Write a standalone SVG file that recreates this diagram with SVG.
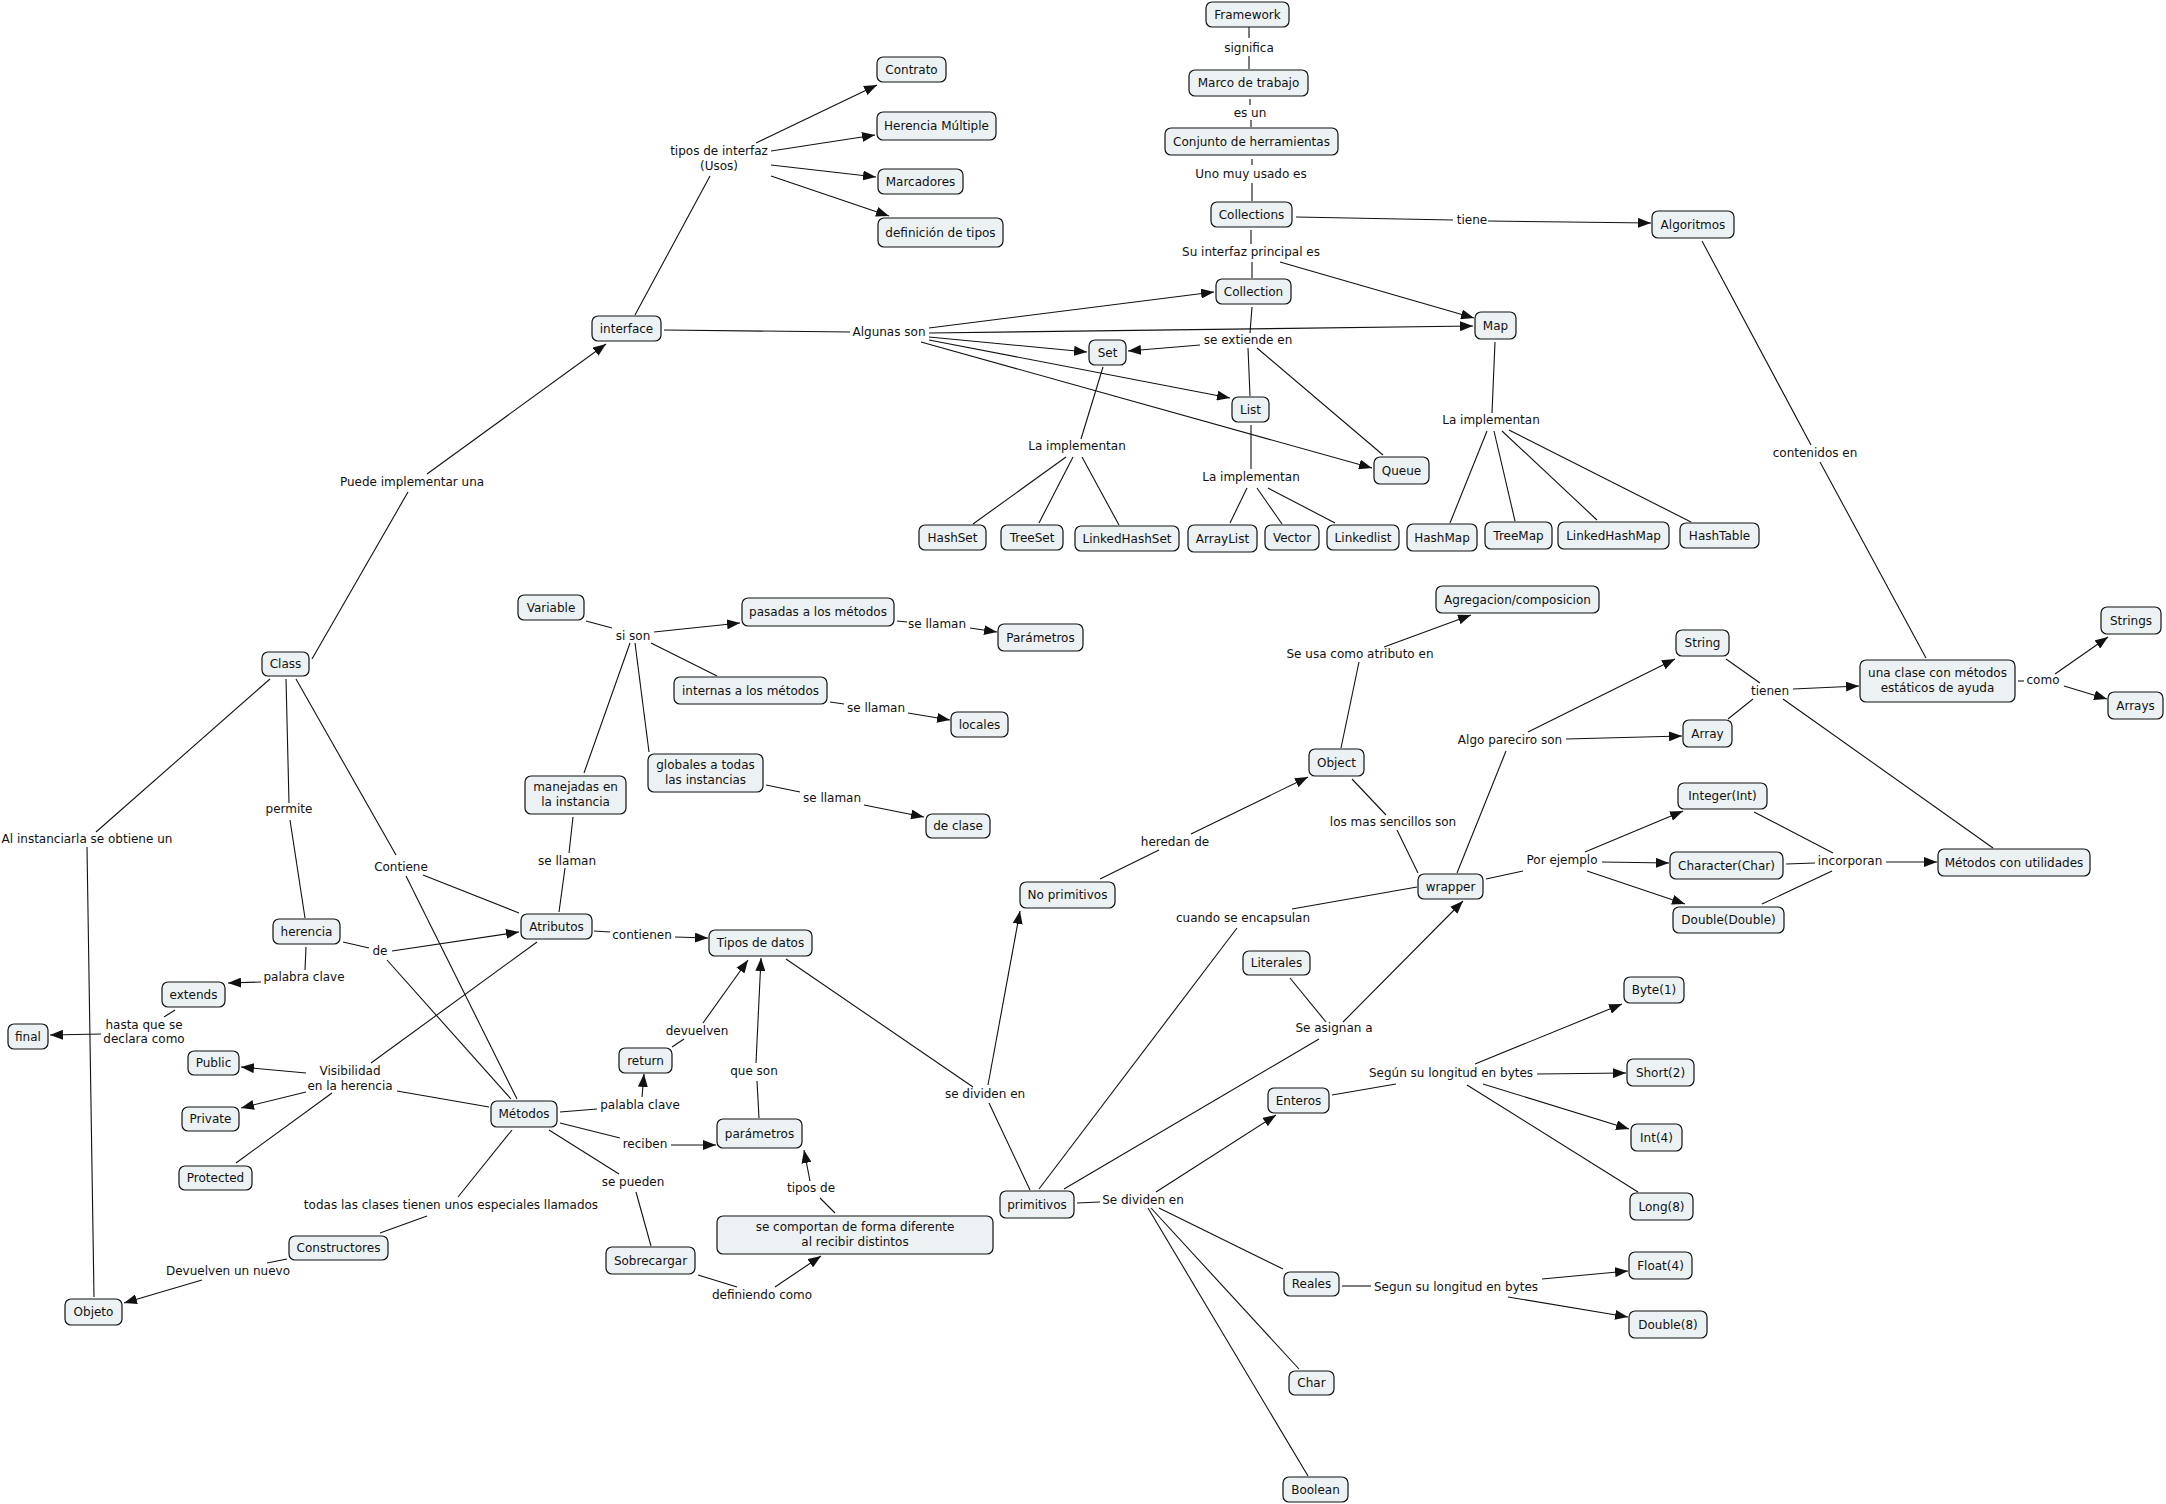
<svg xmlns="http://www.w3.org/2000/svg" width="2166" height="1504" viewBox="0 0 2166 1504">
<defs>
<marker id="ah" markerUnits="userSpaceOnUse" markerWidth="13" markerHeight="10" refX="13" refY="5" orient="auto">
<path d="M0,0 L13,5 L0,10 z" fill="#111"/>
</marker>
<style>
.n rect{fill:#ECF2F4;stroke:#111;stroke-width:1.2}
text{font-family:"DejaVu Sans",Verdana,sans-serif;font-size:12px;fill:#111;text-anchor:middle}
#connectors line{stroke:#111;stroke-width:1.1;fill:none}
#connectors line.a{marker-end:url(#ah)}
</style>
</defs>
<rect width="2166" height="1504" fill="#fff"/>
<g id="connectors">
<line x1="1249" y1="27" x2="1249" y2="38"/>
<line x1="1249" y1="56" x2="1249" y2="69"/>
<line x1="1250" y1="99" x2="1250" y2="105"/>
<line x1="1251" y1="120" x2="1251" y2="127"/>
<line x1="1252" y1="159" x2="1252" y2="165"/>
<line x1="1252" y1="183" x2="1252" y2="201"/>
<line x1="1296" y1="217" x2="1453" y2="220"/>
<line class="a" x1="1488" y1="221" x2="1651" y2="223"/>
<line x1="1251" y1="230" x2="1251" y2="244"/>
<line x1="1252" y1="262" x2="1252" y2="278"/>
<line class="a" x1="1280" y1="262" x2="1474" y2="318"/>
<line x1="1252" y1="307" x2="1250" y2="333"/>
<line class="a" x1="1200" y1="345" x2="1128" y2="351"/>
<line x1="1248" y1="348" x2="1250" y2="396"/>
<line x1="1257" y1="348" x2="1383" y2="455"/>
<line x1="1103" y1="367" x2="1081" y2="439"/>
<line x1="1066" y1="457" x2="973" y2="524"/>
<line x1="1073" y1="457" x2="1039" y2="523"/>
<line x1="1082" y1="457" x2="1119" y2="525"/>
<line x1="1251" y1="425" x2="1251" y2="469"/>
<line x1="1247" y1="488" x2="1230" y2="523"/>
<line x1="1257" y1="488" x2="1282" y2="524"/>
<line x1="1268" y1="488" x2="1335" y2="523"/>
<line x1="1495" y1="342" x2="1492" y2="413"/>
<line x1="1487" y1="431" x2="1450" y2="523"/>
<line x1="1494" y1="431" x2="1515" y2="521"/>
<line x1="1502" y1="431" x2="1597" y2="520"/>
<line x1="1509" y1="430" x2="1691" y2="522"/>
<line x1="1702" y1="241" x2="1811" y2="445"/>
<line x1="1820" y1="462" x2="1926" y2="658"/>
<line x1="635" y1="315" x2="710" y2="176"/>
<line class="a" x1="756" y1="143" x2="877" y2="85"/>
<line class="a" x1="771" y1="151" x2="875" y2="135"/>
<line class="a" x1="771" y1="165" x2="876" y2="177"/>
<line class="a" x1="771" y1="176" x2="889" y2="216"/>
<line x1="664" y1="330" x2="850" y2="332"/>
<line class="a" x1="929" y1="328" x2="1214" y2="292"/>
<line class="a" x1="929" y1="333" x2="1473" y2="326"/>
<line class="a" x1="929" y1="337" x2="1087" y2="352"/>
<line class="a" x1="929" y1="340" x2="1230" y2="398"/>
<line class="a" x1="921" y1="342" x2="1372" y2="468"/>
<line x1="312" y1="659" x2="408" y2="492"/>
<line class="a" x1="427" y1="474" x2="606" y2="344"/>
<line x1="270" y1="679" x2="96" y2="832"/>
<line x1="87" y1="847" x2="94" y2="1297"/>
<line x1="286" y1="679" x2="289" y2="803"/>
<line x1="290" y1="820" x2="305" y2="918"/>
<line x1="296" y1="679" x2="396" y2="855"/>
<line x1="423" y1="875" x2="519" y2="913"/>
<line x1="406" y1="876" x2="517" y2="1099"/>
<line x1="343" y1="942" x2="369" y2="948"/>
<line class="a" x1="392" y1="951" x2="519" y2="932"/>
<line x1="387" y1="960" x2="511" y2="1099"/>
<line x1="537" y1="942" x2="371" y2="1063"/>
<line x1="306" y1="947" x2="305" y2="970"/>
<line class="a" x1="261" y1="982" x2="228" y2="983"/>
<line x1="175" y1="1010" x2="164" y2="1017"/>
<line class="a" x1="101" y1="1034" x2="50" y2="1035"/>
<line class="a" x1="306" y1="1073" x2="241" y2="1067"/>
<line class="a" x1="306" y1="1092" x2="241" y2="1108"/>
<line x1="332" y1="1093" x2="236" y2="1163"/>
<line x1="397" y1="1091" x2="489" y2="1107"/>
<line x1="512" y1="1130" x2="458" y2="1197"/>
<line x1="427" y1="1216" x2="380" y2="1233"/>
<line x1="287" y1="1259" x2="267" y2="1263"/>
<line class="a" x1="202" y1="1280" x2="124" y2="1303"/>
<line x1="586" y1="621" x2="612" y2="628"/>
<line class="a" x1="654" y1="632" x2="740" y2="623"/>
<line x1="897" y1="621" x2="907" y2="622"/>
<line class="a" x1="970" y1="628" x2="997" y2="632"/>
<line x1="651" y1="643" x2="717" y2="676"/>
<line x1="830" y1="702" x2="844" y2="704"/>
<line class="a" x1="908" y1="713" x2="950" y2="720"/>
<line x1="635" y1="643" x2="649" y2="752"/>
<line x1="766" y1="785" x2="800" y2="792"/>
<line class="a" x1="864" y1="805" x2="924" y2="817"/>
<line x1="630" y1="643" x2="584" y2="773"/>
<line x1="573" y1="817" x2="569" y2="853"/>
<line x1="565" y1="868" x2="559" y2="912"/>
<line x1="594" y1="931" x2="610" y2="932"/>
<line class="a" x1="675" y1="937" x2="708" y2="938"/>
<line x1="786" y1="959" x2="973" y2="1087"/>
<line class="a" x1="988" y1="1085" x2="1020" y2="911"/>
<line x1="989" y1="1103" x2="1030" y2="1190"/>
<line x1="672" y1="1047" x2="684" y2="1039"/>
<line class="a" x1="703" y1="1023" x2="748" y2="960"/>
<line x1="560" y1="1112" x2="597" y2="1109"/>
<line class="a" x1="642" y1="1097" x2="644" y2="1074"/>
<line x1="759" y1="1118" x2="757" y2="1081"/>
<line class="a" x1="756" y1="1063" x2="761" y2="958"/>
<line x1="560" y1="1123" x2="620" y2="1138"/>
<line class="a" x1="671" y1="1145" x2="716" y2="1145"/>
<line x1="549" y1="1130" x2="619" y2="1174"/>
<line x1="636" y1="1192" x2="651" y2="1246"/>
<line x1="698" y1="1275" x2="737" y2="1287"/>
<line class="a" x1="775" y1="1287" x2="821" y2="1256"/>
<line x1="835" y1="1213" x2="820" y2="1198"/>
<line class="a" x1="810" y1="1181" x2="804" y2="1150"/>
<line x1="1039" y1="1189" x2="1237" y2="928"/>
<line x1="1292" y1="909" x2="1417" y2="887"/>
<line x1="1064" y1="1189" x2="1319" y2="1039"/>
<line class="a" x1="1343" y1="1022" x2="1463" y2="901"/>
<line x1="1290" y1="978" x2="1326" y2="1022"/>
<line x1="1077" y1="1203" x2="1100" y2="1202"/>
<line class="a" x1="1156" y1="1192" x2="1276" y2="1115"/>
<line x1="1159" y1="1208" x2="1283" y2="1269"/>
<line x1="1151" y1="1208" x2="1299" y2="1369"/>
<line x1="1148" y1="1208" x2="1308" y2="1476"/>
<line x1="1332" y1="1095" x2="1396" y2="1084"/>
<line class="a" x1="1475" y1="1064" x2="1622" y2="1004"/>
<line class="a" x1="1537" y1="1074" x2="1626" y2="1073"/>
<line class="a" x1="1483" y1="1084" x2="1629" y2="1129"/>
<line x1="1467" y1="1085" x2="1638" y2="1192"/>
<line x1="1342" y1="1286" x2="1371" y2="1286"/>
<line class="a" x1="1542" y1="1279" x2="1628" y2="1271"/>
<line class="a" x1="1508" y1="1297" x2="1628" y2="1317"/>
<line x1="1100" y1="879" x2="1159" y2="850"/>
<line class="a" x1="1191" y1="834" x2="1308" y2="777"/>
<line x1="1341" y1="748" x2="1359" y2="662"/>
<line class="a" x1="1384" y1="647" x2="1471" y2="615"/>
<line x1="1352" y1="779" x2="1386" y2="815"/>
<line x1="1397" y1="830" x2="1418" y2="873"/>
<line x1="1457" y1="873" x2="1506" y2="751"/>
<line class="a" x1="1528" y1="732" x2="1675" y2="659"/>
<line class="a" x1="1566" y1="739" x2="1682" y2="736"/>
<line x1="1486" y1="879" x2="1523" y2="871"/>
<line class="a" x1="1585" y1="852" x2="1683" y2="811"/>
<line class="a" x1="1602" y1="862" x2="1669" y2="863"/>
<line class="a" x1="1587" y1="871" x2="1685" y2="904"/>
<line x1="1726" y1="659" x2="1760" y2="683"/>
<line x1="1728" y1="719" x2="1753" y2="699"/>
<line class="a" x1="1793" y1="689" x2="1859" y2="686"/>
<line x1="1783" y1="699" x2="1993" y2="848"/>
<line x1="2018" y1="681" x2="2024" y2="681"/>
<line class="a" x1="2055" y1="674" x2="2108" y2="637"/>
<line class="a" x1="2064" y1="686" x2="2107" y2="699"/>
<line x1="1754" y1="812" x2="1833" y2="853"/>
<line x1="1786" y1="864" x2="1815" y2="863"/>
<line x1="1762" y1="904" x2="1832" y2="871"/>
<line class="a" x1="1886" y1="862" x2="1937" y2="862"/>
</g>
<g id="labels">
<text x="719" y="155">tipos de interfaz</text><text x="719" y="170">(Usos)</text>
<text x="889" y="336">Algunas son</text>
<text x="1249" y="52">significa</text>
<text x="1250" y="117">es un</text>
<text x="1251" y="178">Uno muy usado es</text>
<text x="1472" y="224">tiene</text>
<text x="1251" y="256">Su interfaz principal es</text>
<text x="1248" y="344">se extiende en</text>
<text x="1077" y="450">La implementan</text>
<text x="1251" y="481">La implementan</text>
<text x="1491" y="424">La implementan</text>
<text x="1815" y="457">contenidos en</text>
<text x="412" y="486">Puede implementar una</text>
<text x="87" y="843">Al instanciarla se obtiene un</text>
<text x="289" y="813">permite</text>
<text x="401" y="871">Contiene</text>
<text x="380" y="955">de</text>
<text x="304" y="981">palabra clave</text>
<text x="144" y="1029">hasta que se</text><text x="144" y="1043">declara como</text>
<text x="350" y="1075">Visibilidad</text><text x="350" y="1090">en la herencia</text>
<text x="451" y="1209">todas las clases tienen unos especiales llamados</text>
<text x="228" y="1275">Devuelven un nuevo</text>
<text x="633" y="640">si son</text>
<text x="937" y="628">se llaman</text>
<text x="876" y="712">se llaman</text>
<text x="832" y="802">se llaman</text>
<text x="567" y="865">se llaman</text>
<text x="642" y="939">contienen</text>
<text x="697" y="1035">devuelven</text>
<text x="640" y="1109">palabla clave</text>
<text x="754" y="1075">que son</text>
<text x="645" y="1148">reciben</text>
<text x="633" y="1186">se pueden</text>
<text x="762" y="1299">definiendo como</text>
<text x="811" y="1192">tipos de</text>
<text x="985" y="1098">se dividen en</text>
<text x="1175" y="846">heredan de</text>
<text x="1360" y="658">Se usa como atributo en</text>
<text x="1393" y="826">los mas sencillos son</text>
<text x="1510" y="744">Algo pareciro son</text>
<text x="1562" y="864">Por ejemplo</text>
<text x="1243" y="922">cuando se encapsulan</text>
<text x="1334" y="1032">Se asignan a</text>
<text x="1143" y="1204">Se dividen en</text>
<text x="1451" y="1077">Según su longitud en bytes</text>
<text x="1456" y="1291">Segun su longitud en bytes</text>
<text x="1770" y="695">tienen</text>
<text x="2043" y="684">como</text>
<text x="1850" y="865">incorporan</text>
</g>
<g id="n-framework" class="n"><rect x="1206" y="2" width="83" height="25" rx="6"/><text x="1247.5" y="18.5">Framework</text></g>
<g id="n-marco" class="n"><rect x="1189" y="70" width="119" height="26" rx="6"/><text x="1248.5" y="87">Marco de trabajo</text></g>
<g id="n-conjunto" class="n"><rect x="1165" y="128" width="173" height="27" rx="6"/><text x="1251.5" y="145.5">Conjunto de herramientas</text></g>
<g id="n-collections" class="n"><rect x="1211" y="202" width="81" height="25" rx="6"/><text x="1251.5" y="218.5">Collections</text></g>
<g id="n-collection" class="n"><rect x="1216" y="279" width="75" height="25" rx="6"/><text x="1253.5" y="295.5">Collection</text></g>
<g id="n-map" class="n"><rect x="1475" y="312" width="41" height="27" rx="6"/><text x="1495.5" y="329.5">Map</text></g>
<g id="n-set" class="n"><rect x="1089" y="340" width="37" height="25" rx="6"/><text x="1107.5" y="356.5">Set</text></g>
<g id="n-list" class="n"><rect x="1232" y="397" width="37" height="25" rx="6"/><text x="1250.5" y="413.5">List</text></g>
<g id="n-queue" class="n"><rect x="1374" y="457" width="55" height="27" rx="6"/><text x="1401.5" y="474.5">Queue</text></g>
<g id="n-algoritmos" class="n"><rect x="1652" y="211" width="82" height="27" rx="6"/><text x="1693" y="228.5">Algoritmos</text></g>
<g id="n-contrato" class="n"><rect x="877" y="57" width="69" height="25" rx="6"/><text x="911.5" y="73.5">Contrato</text></g>
<g id="n-herenciamult" class="n"><rect x="877" y="112" width="119" height="28" rx="6"/><text x="936.5" y="130">Herencia Múltiple</text></g>
<g id="n-marcadores" class="n"><rect x="878" y="169" width="85" height="25" rx="6"/><text x="920.5" y="185.5">Marcadores</text></g>
<g id="n-definicion" class="n"><rect x="878" y="218" width="125" height="29" rx="6"/><text x="940.5" y="236.5">definición de tipos</text></g>
<g id="n-interface" class="n"><rect x="592" y="316" width="69" height="25" rx="6"/><text x="626.5" y="332.5">interface</text></g>
<g id="n-hashset" class="n"><rect x="919" y="525" width="67" height="25" rx="6"/><text x="952.5" y="541.5">HashSet</text></g>
<g id="n-treeset" class="n"><rect x="1001" y="525" width="62" height="25" rx="6"/><text x="1032" y="541.5">TreeSet</text></g>
<g id="n-linkedhashset" class="n"><rect x="1075" y="526" width="104" height="25" rx="6"/><text x="1127" y="542.5">LinkedHashSet</text></g>
<g id="n-arraylist" class="n"><rect x="1188" y="525" width="69" height="27" rx="6"/><text x="1222.5" y="542.5">ArrayList</text></g>
<g id="n-vector" class="n"><rect x="1265" y="525" width="54" height="25" rx="6"/><text x="1292" y="541.5">Vector</text></g>
<g id="n-linkedlist" class="n"><rect x="1327" y="525" width="72" height="25" rx="6"/><text x="1363" y="541.5">Linkedlist</text></g>
<g id="n-hashmap" class="n"><rect x="1407" y="524" width="70" height="27" rx="6"/><text x="1442" y="541.5">HashMap</text></g>
<g id="n-treemap" class="n"><rect x="1485" y="522" width="67" height="27" rx="6"/><text x="1518.5" y="539.5">TreeMap</text></g>
<g id="n-linkedhashmap" class="n"><rect x="1558" y="522" width="111" height="27" rx="6"/><text x="1613.5" y="539.5">LinkedHashMap</text></g>
<g id="n-hashtable" class="n"><rect x="1680" y="523" width="79" height="25" rx="6"/><text x="1719.5" y="539.5">HashTable</text></g>
<g id="n-variable" class="n"><rect x="518" y="595" width="66" height="25" rx="6"/><text x="551" y="611.5">Variable</text></g>
<g id="n-pasadas" class="n"><rect x="742" y="598" width="152" height="28" rx="6"/><text x="818" y="616">pasadas a los métodos</text></g>
<g id="n-parametros1" class="n"><rect x="998" y="624" width="85" height="27" rx="6"/><text x="1040.5" y="641.5">Parámetros</text></g>
<g id="n-internas" class="n"><rect x="674" y="677" width="153" height="27" rx="6"/><text x="750.5" y="694.5">internas a los métodos</text></g>
<g id="n-locales" class="n"><rect x="951" y="712" width="57" height="25" rx="6"/><text x="979.5" y="728.5">locales</text></g>
<g id="n-globales" class="n"><rect x="648" y="754" width="115" height="38" rx="6"/><text x="705.5" y="769">globales a todas</text><text x="705.5" y="784">las instancias</text></g>
<g id="n-declase" class="n"><rect x="926" y="814" width="64" height="24" rx="6"/><text x="958" y="830">de clase</text></g>
<g id="n-manejadas" class="n"><rect x="525" y="776" width="101" height="38" rx="6"/><text x="575.5" y="791">manejadas en</text><text x="575.5" y="806">la instancia</text></g>
<g id="n-class" class="n"><rect x="262" y="652" width="47" height="24" rx="6"/><text x="285.5" y="668">Class</text></g>
<g id="n-atributos" class="n"><rect x="521" y="914" width="71" height="25" rx="6"/><text x="556.5" y="930.5">Atributos</text></g>
<g id="n-tipos" class="n"><rect x="709" y="930" width="103" height="26" rx="6"/><text x="760.5" y="947">Tipos de datos</text></g>
<g id="n-herencia" class="n"><rect x="273" y="919" width="67" height="25" rx="6"/><text x="306.5" y="935.5">herencia</text></g>
<g id="n-extends" class="n"><rect x="162" y="982" width="63" height="25" rx="6"/><text x="193.5" y="998.5">extends</text></g>
<g id="n-final" class="n"><rect x="8" y="1024" width="40" height="25" rx="6"/><text x="28" y="1040.5">final</text></g>
<g id="n-public" class="n"><rect x="188" y="1051" width="51" height="24" rx="6"/><text x="213.5" y="1067">Public</text></g>
<g id="n-private" class="n"><rect x="182" y="1107" width="57" height="24" rx="6"/><text x="210.5" y="1123">Private</text></g>
<g id="n-protected" class="n"><rect x="179" y="1166" width="73" height="24" rx="6"/><text x="215.5" y="1182">Protected</text></g>
<g id="n-metodos" class="n"><rect x="491" y="1101" width="66" height="26" rx="6"/><text x="524" y="1118">Métodos</text></g>
<g id="n-constructores" class="n"><rect x="289" y="1236" width="99" height="24" rx="6"/><text x="338.5" y="1252">Constructores</text></g>
<g id="n-objeto" class="n"><rect x="65" y="1299" width="57" height="26" rx="6"/><text x="93.5" y="1316">Objeto</text></g>
<g id="n-return" class="n"><rect x="619" y="1048" width="53" height="25" rx="6"/><text x="645.5" y="1064.5">return</text></g>
<g id="n-parametros2" class="n"><rect x="717" y="1119" width="85" height="29" rx="6"/><text x="759.5" y="1137.5">parámetros</text></g>
<g id="n-sobrecargar" class="n"><rect x="606" y="1247" width="89" height="27" rx="6"/><text x="650.5" y="1264.5">Sobrecargar</text></g>
<g id="n-comportan" class="n"><rect x="717" y="1216" width="276" height="38" rx="6"/><text x="855" y="1231">se comportan de forma diferente</text><text x="855" y="1246">al recibir distintos</text></g>
<g id="n-primitivos" class="n"><rect x="1000" y="1191" width="74" height="27" rx="6"/><text x="1037" y="1208.5">primitivos</text></g>
<g id="n-noprimitivos" class="n"><rect x="1020" y="882" width="95" height="26" rx="6"/><text x="1067.5" y="899">No primitivos</text></g>
<g id="n-object" class="n"><rect x="1309" y="749" width="55" height="27" rx="6"/><text x="1336.5" y="766.5">Object</text></g>
<g id="n-agregacion" class="n"><rect x="1436" y="586" width="163" height="27" rx="6"/><text x="1517.5" y="603.5">Agregacion/composicion</text></g>
<g id="n-wrapper" class="n"><rect x="1418" y="874" width="65" height="25" rx="6"/><text x="1450.5" y="890.5">wrapper</text></g>
<g id="n-literales" class="n"><rect x="1243" y="951" width="67" height="24" rx="6"/><text x="1276.5" y="967">Literales</text></g>
<g id="n-string" class="n"><rect x="1676" y="630" width="53" height="26" rx="6"/><text x="1702.5" y="647">String</text></g>
<g id="n-array" class="n"><rect x="1683" y="720" width="49" height="27" rx="6"/><text x="1707.5" y="737.5">Array</text></g>
<g id="n-unaclase" class="n"><rect x="1860" y="660" width="155" height="42" rx="6"/><text x="1937.5" y="677">una clase con métodos</text><text x="1937.5" y="692">estáticos de ayuda</text></g>
<g id="n-strings" class="n"><rect x="2101" y="607" width="60" height="27" rx="6"/><text x="2131" y="624.5">Strings</text></g>
<g id="n-arrays" class="n"><rect x="2108" y="692" width="55" height="27" rx="6"/><text x="2135.5" y="709.5">Arrays</text></g>
<g id="n-integer" class="n"><rect x="1678" y="783" width="89" height="26" rx="6"/><text x="1722.5" y="800">Integer(Int)</text></g>
<g id="n-character" class="n"><rect x="1670" y="852" width="113" height="27" rx="6"/><text x="1726.5" y="869.5">Character(Char)</text></g>
<g id="n-doubledouble" class="n"><rect x="1673" y="907" width="111" height="26" rx="6"/><text x="1728.5" y="924">Double(Double)</text></g>
<g id="n-metutil" class="n"><rect x="1938" y="849" width="152" height="27" rx="6"/><text x="2014" y="866.5">Métodos con utilidades</text></g>
<g id="n-byte" class="n"><rect x="1624" y="977" width="60" height="26" rx="6"/><text x="1654" y="994">Byte(1)</text></g>
<g id="n-short" class="n"><rect x="1627" y="1059" width="67" height="27" rx="6"/><text x="1660.5" y="1076.5">Short(2)</text></g>
<g id="n-int" class="n"><rect x="1631" y="1124" width="51" height="27" rx="6"/><text x="1656.5" y="1141.5">Int(4)</text></g>
<g id="n-long" class="n"><rect x="1630" y="1193" width="63" height="27" rx="6"/><text x="1661.5" y="1210.5">Long(8)</text></g>
<g id="n-float" class="n"><rect x="1629" y="1252" width="63" height="27" rx="6"/><text x="1660.5" y="1269.5">Float(4)</text></g>
<g id="n-double8" class="n"><rect x="1629" y="1311" width="78" height="27" rx="6"/><text x="1668" y="1328.5">Double(8)</text></g>
<g id="n-enteros" class="n"><rect x="1268" y="1088" width="61" height="25" rx="6"/><text x="1298.5" y="1104.5">Enteros</text></g>
<g id="n-reales" class="n"><rect x="1284" y="1272" width="55" height="24" rx="6"/><text x="1311.5" y="1288">Reales</text></g>
<g id="n-char" class="n"><rect x="1289" y="1371" width="45" height="24" rx="6"/><text x="1311.5" y="1387">Char</text></g>
<g id="n-boolean" class="n"><rect x="1283" y="1477" width="65" height="25" rx="6"/><text x="1315.5" y="1493.5">Boolean</text></g>
</svg>
